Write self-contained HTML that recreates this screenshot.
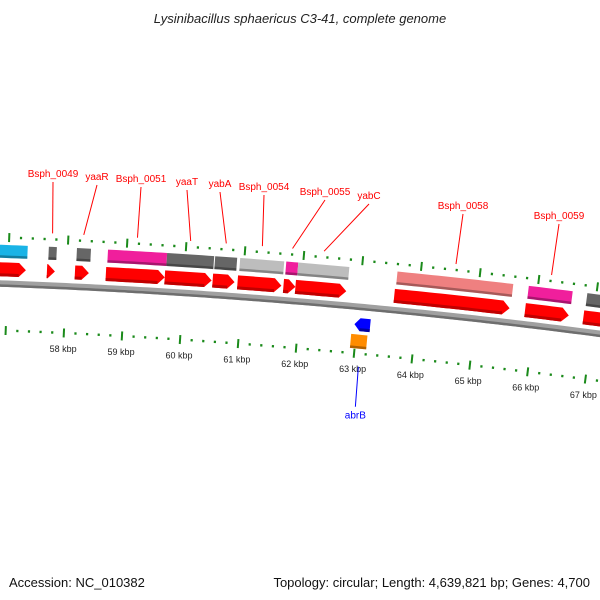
<!DOCTYPE html>
<html><head><meta charset="utf-8"><style>
body{margin:0;background:#fff;}
svg{display:block;font-family:"Liberation Sans",sans-serif;}
</style></head><body>
<svg id="map" width="600" height="600" viewBox="0 0 600 600">
<rect width="600" height="600" fill="#fff"/>
<text x="300" y="23" text-anchor="middle" font-size="13" font-style="italic" fill="#222">Lysinibacillus sphaericus C3-41, complete genome</text>
<text x="9" y="587" font-size="13" fill="#111">Accession: NC_010382</text>
<text x="590" y="587" text-anchor="end" font-size="13" fill="#111">Topology: circular; Length: 4,639,821 bp; Genes: 4,700</text>
<g id="layer"></g>
</svg>
<script>
// data
const fwdStarts=[56500,57663,58140,58667,59671,60488,60913,61697,61901,63590,65830,66830];
const fwdEnds=[57305,57799,58378,59671,60471,60862,61662,61901,62770,65565,66580,67900];
const cogColors=['#19b3e6','#666666','#666666','#f01f9c','#666666','#666666','#bdbdbd','#f01f9c','#bdbdbd','#ef8080','#f01f9c','#666666'];
const revStarts=[62960];
const revEnds=[63230];
const revCog=['#ff8c00'];
const geneLabels=['','Bsph_0049','yaaR','Bsph_0051','yaaT','yabA','Bsph_0054','Bsph_0055','yabC','Bsph_0058','Bsph_0059',''];
const revLabels=['abrB'];
const kbpTicks=[58,59,60,61,62,63,64,65,66,67];
// layout
const labelPos={1:[53,177],2:[97,180],3:[141,182],4:[187,185],5:[220,187],6:[264,190],7:[325,195],8:[369,199],9:[463,209],10:[559,219]};
const CX=-234,CY=6679,R=6400,A0=0.0469,K=9.16e-6;
const NS='http://www.w3.org/2000/svg';
const layer=document.getElementById('layer');
function ang(bp){return A0+(bp-58000)*K;}
function pt(bp,r){const a=ang(bp);return [CX+r*Math.sin(a),CY-r*Math.cos(a)];}
function mk(tag,attrs){const e=document.createElementNS(NS,tag);for(const k in attrs)e.setAttribute(k,attrs[k]);layer.appendChild(e);return e;}
function arcPts(b0,b1,r){const n=Math.max(2,Math.ceil((b1-b0)/100));const p=[];for(let i=0;i<=n;i++)p.push(pt(b0+(b1-b0)*i/n,r));return p;}
function band(b0,b1,r0,r1){const p=arcPts(b0,b1,r1).concat(arcPts(b0,b1,r0).reverse());return p.map(q=>q[0].toFixed(2)+','+q[1].toFixed(2)).join(' ');}
// backbone
let e=mk('polygon',{points:band(55000,70000,R-3.5,R+3),fill:'#a0a0a0'});


e=mk('polygon',{points:band(55000,70000,R-3.5,R-1),fill:'#6e6e6e'});


// rulers
for(let bp=55000;bp<=70000;bp+=200){
 const major=bp%1000===0;
 [[R+46,'outer'],[R-47,'inner']].forEach(([r,w])=>{
  const h=major?4.5:1.2;const a=pt(bp,r-h),b=pt(bp,r+h);
  const l=mk('line',{x1:a[0],y1:a[1],x2:b[0],y2:b[1],stroke:'#1a8a1a','stroke-width':major?2:2.2});
  
  
 });
}
kbpTicks.forEach(k=>{const p=pt(k*1000,R-63);
 const t=mk('text',{x:p[0],y:p[1]+3,'text-anchor':'middle','font-size':9,fill:'#222'});t.textContent=k+' kbp';
 
 });
function arrow(b0,b1,rc,th,dir,fill,dark,name){
 const head=7/(R*K);
 if(dir>0){const hb=Math.max(b0,b1-head);
  const top=arcPts(b0,hb,rc+th/2),bot=arcPts(b0,hb,rc-th/2).reverse();
  const tip=pt(b1,rc);
  const pts=top.concat([tip]).concat(bot);
  const pl=mk('polygon',{points:pts.map(q=>q.join(',')).join(' '),fill:fill});
  
  
  const sh=mk('polygon',{points:band(b0,hb,rc-th/2,rc-th/2+3),fill:dark});
  
  
 } else {const hb=Math.min(b1,b0+head*0.8);
  const top=arcPts(hb,b1,rc+th/2),bot=arcPts(hb,b1,rc-th/2).reverse();
  const pts=[pt(b0,rc)].concat(top).concat(bot);
  const pl=mk('polygon',{points:pts.map(q=>q.join(',')).join(' '),fill:fill});
  
  
  const sh=mk('polygon',{points:band(hb,b1,rc-th/2,rc-th/2+3),fill:dark});
  
  }
}
function bar(b0,b1,rc,th,col,name){
 const b=mk('polygon',{points:band(b0,b1,rc-th/2,rc+th/2),fill:col});
 
 
 const s=mk('polygon',{points:band(b0,b1,rc-th/2,rc-th/2+2.5),fill:'rgba(0,0,0,0.3)'});
 
 
}
fwdStarts.forEach((s,i)=>{
 arrow(s,fwdEnds[i],R+14,14,1,'#ff0000','#c00000','forward-gene');
 bar(s+15,fwdEnds[i]+15,R+32,13,cogColors[i],'cog-bar');
 if(geneLabels[i]){const lp=labelPos[i];const m=pt((s+fwdEnds[i])/2,R+52);
  const l=mk('line',{x1:lp[0],y1:lp[1]+5,x2:m[0],y2:m[1],stroke:'#ff0000','stroke-width':1});
  
  
  const t=mk('text',{x:lp[0],y:lp[1],'text-anchor':'middle','font-size':10,fill:'#ff0000'});t.textContent=geneLabels[i];
  
  }
});
revStarts.forEach((s,i)=>{
 arrow(s,revEnds[i],R-18,13,-1,'#0000ff','#0000a0','reverse-gene');
 bar(s-40,revEnds[i]-30,R-35,14,revCog[i],'reverse-cog-bar');
 const m=pt((s+revEnds[i])/2,R-60);
 const l=mk('line',{x1:m[0],y1:m[1],x2:m[0]-3,y2:m[1]+40,stroke:'#0000ff','stroke-width':1});
 
 
 const t=mk('text',{x:m[0]-3,y:m[1]+52,'text-anchor':'middle','font-size':10,fill:'#0000ff'});t.textContent=revLabels[i];
 
 
});
</script>
</body></html>
